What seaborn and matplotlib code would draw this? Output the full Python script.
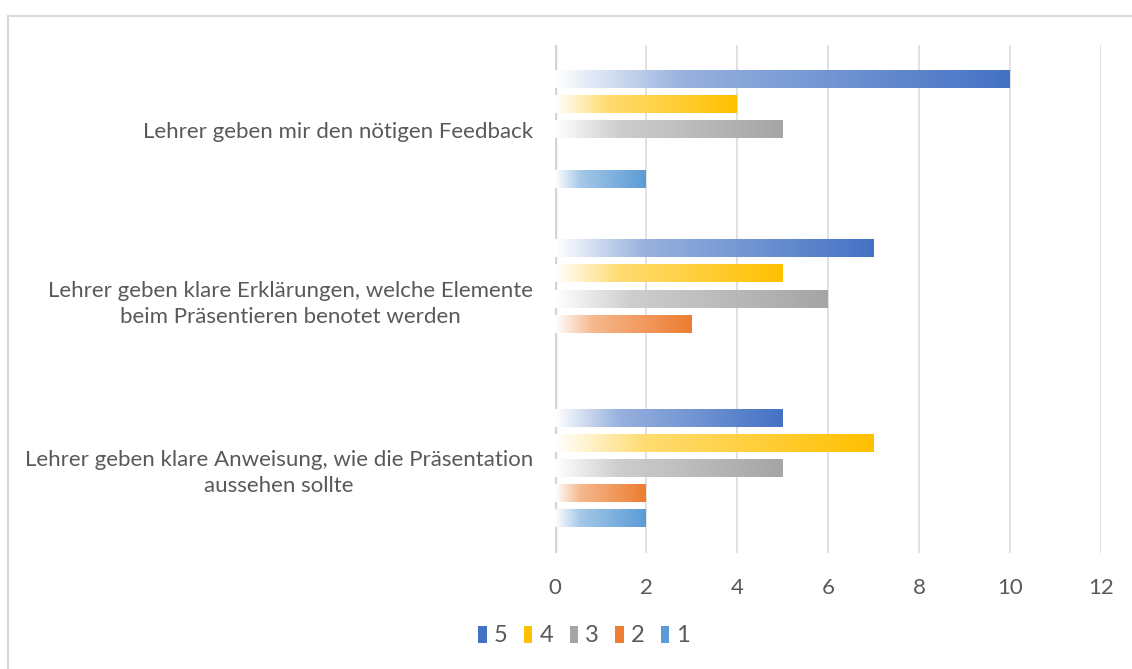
import numpy as np
import pandas as pd
import matplotlib
matplotlib.use("Agg")
import matplotlib.pyplot as plt
import seaborn as sns
from matplotlib.colors import LinearSegmentedColormap, to_rgb
from matplotlib.patches import Patch
from matplotlib.lines import Line2D

# data
categories = [
    "Lehrer geben mir den nötigen Feedback",
    "Lehrer geben klare Erklärungen, welche Elemente\nbeim Präsentieren benotet werden",
    "Lehrer geben klare Anweisung, wie die Präsentation\naussehen sollte",
]
ratings = ["5", "4", "3", "2", "1"]
vals_5 = [10, 7, 5]
vals_4 = [4, 5, 7]
vals_3 = [5, 6, 5]
vals_2 = [0, 3, 2]
vals_1 = [2, 0, 2]
colors = ["#4472C4", "#FFC000", "#A5A5A5", "#ED7D31", "#5B9BD5"]

rows = []
for r, vals in zip(ratings, [vals_5, vals_4, vals_3, vals_2, vals_1]):
    for c, v in zip(categories, vals):
        rows.append({"Kategorie": c, "Bewertung": r, "Anzahl": v})
df = pd.DataFrame(rows)

sns.set_theme(style="white")
plt.rcParams["font.family"] = ["Lato", "DejaVu Sans"]
txt = "#595959"

fig = plt.figure(figsize=(11.32, 6.69), dpi=100)
ax = fig.add_axes([555 / 1132, 1 - 553 / 669, 546 / 1132, 508 / 669])

sns.barplot(data=df, y="Kategorie", x="Anzahl", hue="Bewertung",
            hue_order=ratings, order=categories, palette=colors,
            orient="h", width=0.74, gap=0.32, legend=False, ax=ax)

# replace flat bars with left-to-right gradients (white -> colour)
for container, col in zip(ax.containers, colors):
    rgb = np.array(to_rgb(col))
    cmap = LinearSegmentedColormap.from_list(
        "g", [(0.0, (1, 1, 1)), (0.28, tuple(1 - 0.55 * (1 - rgb))), (1.0, tuple(rgb))])
    for bar in container:
        w = bar.get_width()
        bar.set_visible(False)
        if w <= 0:
            continue
        x0, y0 = bar.get_x(), bar.get_y()
        h = bar.get_height()
        grad = np.linspace(0, 1, 256).reshape(1, -1)
        ax.imshow(grad, cmap=cmap, extent=[x0, x0 + w, y0 + h, y0],
                  aspect="auto", zorder=3, interpolation="bilinear")

ax.set_xlim(0, 12)
ax.set_ylim(2.5, -0.5)
ax.set_xticks(range(0, 13, 2))
ax.set_yticks(range(len(categories)))
ax.set_yticklabels(categories, multialignment="center", linespacing=1.35)
ax.xaxis.grid(True, color="#D9D9D9", linewidth=1.1)
ax.yaxis.grid(False)
ax.set_axisbelow(True)
ax.axvline(0, color="#D4D4D4", linewidth=2.4, zorder=2)
for s in ax.spines.values():
    s.set_visible(False)
ax.set_xlabel("")
ax.set_ylabel("")
ax.tick_params(axis="x", length=0, pad=18, labelsize=16, labelcolor=txt)
ax.tick_params(axis="y", length=0, pad=16, labelsize=16, labelcolor=txt)

handles = [Patch(facecolor=c, edgecolor="none", label=r) for r, c in zip(ratings, colors)]
fig.legend(handles=handles, loc="center", bbox_to_anchor=(0.516, 1 - 636 / 669),
           ncol=5, frameon=False, handlelength=0.35, handleheight=0.75,
           handletextpad=0.3, columnspacing=0.7, fontsize=17, labelcolor=txt)

# chart border (left and top visible)
fig.add_artist(Line2D([8 / 1132, 8 / 1132], [0, 1 - 16 / 669], color="#D9D9D9", lw=1.5))
fig.add_artist(Line2D([8 / 1132, 1], [1 - 16 / 669, 1 - 16 / 669], color="#D9D9D9", lw=1.5))

fig.savefig("out.png", dpi=100, facecolor="white")
